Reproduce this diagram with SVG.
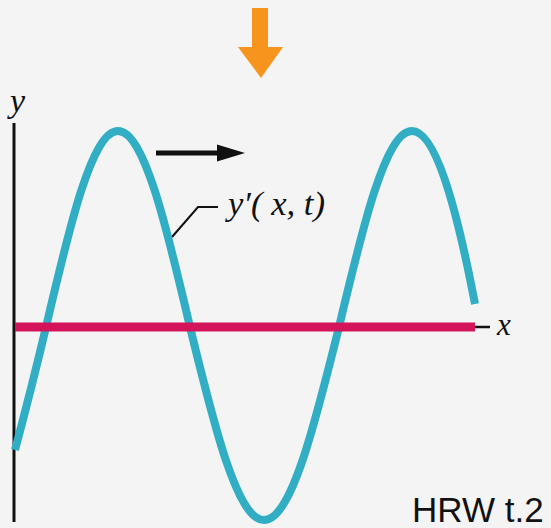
<svg xmlns="http://www.w3.org/2000/svg" width="551" height="528" viewBox="0 0 551 528">
  <style>
    .lbl { font-family: "Liberation Serif", "Times New Roman", serif; font-style: italic; fill: #111; }
    .ink { stroke: #111; fill: none; }
  </style>
  <rect width="551" height="528" fill="#f4f4f4"/>

  <g id="connectors">
    <line id="y-axis" class="ink" x1="14" y1="123" x2="14" y2="522" stroke-width="3"/>
    <line id="x-axis-tick" class="ink" x1="470" y1="327" x2="490" y2="327" stroke-width="2.5"/>
    <polyline id="leader" class="ink" points="172,237 198,207 218,207" stroke-width="2"/>
    <g id="motion-arrow">
      <line class="ink" x1="156" y1="153" x2="218" y2="153" stroke-width="5"/>
      <path d="M217,144.5 L245,153 L217,161.5 Z" fill="#111"/>
    </g>
  </g>

  <g id="orange-arrow">
    <path d="M252,8 L268,8 L268,47 L283,47 L261,78 L238,47 L252,47 Z" fill="#f7941d"/>
  </g>

  <g id="wave-y-prime">
    <path d="M15,450 C23,420 38,361 46,327 C69.5,226.6 91.9,131 118,131 C144.1,131 166.5,226.6 190,327 C214.1,425.9 237.2,520 264,520 C291.1,520 314.5,425.9 339,327 C362.8,226.6 385.6,131 412,131 C435,131 456,205 475,304"
          fill="none" stroke="#31aec4" stroke-width="8" stroke-linejoin="round"/>
  </g>

  <g id="wave-y">
    <line x1="15" y1="327" x2="475" y2="327" stroke="#d4145a" stroke-width="9"/>
  </g>

  <g id="labels">
    <text id="label-y" class="lbl" x="10" y="112" font-size="34">y</text>
    <text id="label-x" class="lbl" x="497" y="335" font-size="31">x</text>
    <text id="label-yprime" class="lbl" x="228" y="215" font-size="34" textLength="97" lengthAdjust="spacingAndGlyphs">y′( x, t)</text>
    <text id="credit" x="412" y="522" font-family="Liberation Sans, Arial, sans-serif" font-size="35" fill="#111">HRW t.2</text>
  </g>
</svg>
